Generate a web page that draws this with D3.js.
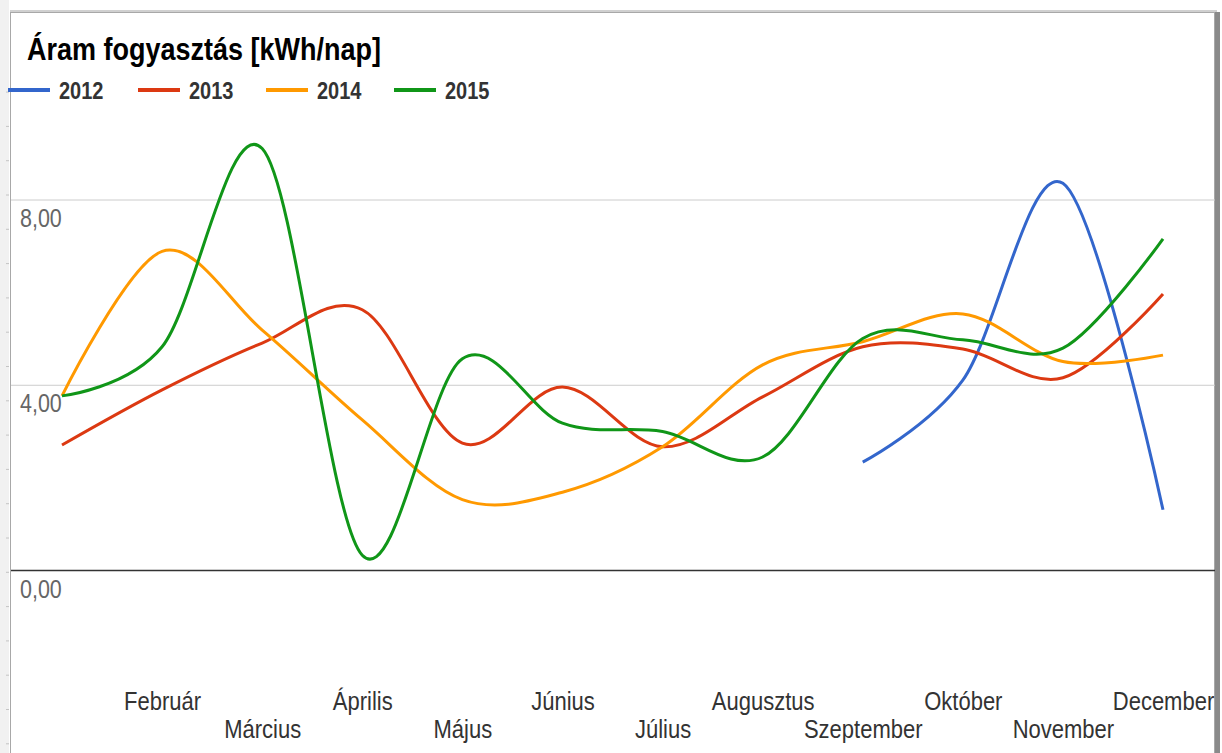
<!DOCTYPE html>
<html>
<head>
<meta charset="utf-8">
<script src="https://cdn.jsdelivr.net/npm/d3@7"></script>
<style>
    html, body { margin: 0; padding: 0; background: #fff; }
    svg { display: block; font-family: "Liberation Sans", Arial, sans-serif; }
</style>
</head>
<body>
<div id="chart"></div>
<script>
let months = ['Január', 'Február', 'Március', 'Április', 'Május', 'Június',
    'Július', 'Augusztus', 'Szeptember', 'Október', 'November', 'December'];
let years = ['2012', '2013', '2014', '2015'];
let colors = ['#3366cc', '#dc3912', '#ff9900', '#109618'];

let v2012 = [null, null, null, null, null, null, null, null, 2.33, 4.10, 8.35, 1.30];
let v2013 = [2.70, 3.89, 4.90, 5.62, 2.74, 3.95, 2.66, 3.74, 4.82, 4.77, 4.15, 5.96];
let v2014 = [3.76, 6.88, 5.18, 3.24, 1.52, 1.68, 2.66, 4.43, 4.93, 5.53, 4.50, 4.64];
let v2015 = [3.76, 4.82, 9.10, 0.32, 4.56, 3.17, 2.99, 2.44, 5.00, 4.97, 4.79, 7.15];

let yTicks = [0, 4, 8];

(function () {
    let W = 1222, H = 753;
    let stretch = 1.17; // a képen a szövegek függőlegesen kicsit nyújtottak

    let svg = d3.select('#chart').append('svg')
        .attr('width', W)
        .attr('height', H);

    function placeText(sel, xPos, yPos) {
        sel.attr('x', 0).attr('y', 0).attr('dy', 0)
            .attr('transform', function (d, i) {
                let px = typeof xPos === 'function' ? xPos(d, i) : xPos;
                let py = typeof yPos === 'function' ? yPos(d, i) : yPos;
                return 'translate(' + px + ',' + py + ') scale(1,' + stretch + ')';
            });
    }

    // keret (a kép egy lapról kivágott diagram)
    svg.append('rect').attr('x', 0).attr('y', 0).attr('width', 9).attr('height', H).attr('fill', '#f1f1f1');
    svg.selectAll('line.ruler')
        .data(d3.range(-3, 20))
        .enter()
        .append('line')
        .attr('class', 'ruler')
        .attr('x1', 6).attr('x2', 9)
        .attr('y1', function (d) { return 195 + d * 34.3; })
        .attr('y2', function (d) { return 195 + d * 34.3; })
        .attr('stroke', '#c4c4c4');

    svg.append('rect').attr('x', 1215).attr('y', 12).attr('width', 5).attr('height', H).attr('fill', '#8a8a8a');
    svg.append('rect').attr('x', 10).attr('y', 10).attr('width', 1207).attr('height', 2).attr('fill', '#d0d0d0');
    svg.append('rect')
        .attr('x', 10.5).attr('y', 12.5)
        .attr('width', 1204).attr('height', H)
        .attr('fill', '#fff')
        .attr('stroke', '#a8a8a8');

    let x = d3.scalePoint()
        .domain(months)
        .range([62, 1163]);

    let y = d3.scaleLinear()
        .domain([0, 8])
        .range([570, 199.5]);

    let huFormat = d3.formatLocale({decimal: ',', thousands: ' ', grouping: [3], currency: ['', '']}).format('.2f');

    // vízszintes rácsvonalak + feliratok
    let axisY = d3.axisLeft(y)
        .tickValues(yTicks)
        .tickSize(1204)
        .tickFormat(huFormat);

    let gy = svg.append('g')
        .attr('transform', 'translate(1215,0)')
        .call(axisY);
    gy.select('.domain').remove();
    gy.selectAll('.tick line')
        .attr('stroke', function (d) { return d === 0 ? '#333' : '#cccccc'; })
        .attr('stroke-width', function (d) { return d === 0 ? 1.5 : 1; });
    gy.selectAll('.tick text')
        .call(placeText, -1195, 27)
        .attr('text-anchor', 'start')
        .attr('font-size', 21.5)
        .attr('font-family', '"Liberation Sans", Arial, sans-serif')
        .attr('fill', '#666');

    // hónapok, két sorban váltakozva (a Január felirat a képen nem látszik)
    let axisX = d3.axisBottom(x)
        .tickSize(0)
        .tickFormat(function (d, i) { return i === 0 ? '' : d; });

    let gx = svg.append('g')
        .call(axisX);
    gx.select('.domain').remove();
    gx.selectAll('.tick text')
        .call(placeText, 0, function (d, i) { return i % 2 === 1 ? 710 : 738; })
        .attr('font-size', 22)
        .attr('font-family', '"Liberation Sans", Arial, sans-serif')
        .attr('fill', '#333');

    // görbék
    let series = [v2012, v2013, v2014, v2015];
    let line = d3.line()
        .defined(function (d) { return d != null; })
        .x(function (d, i) { return x(months[i]); })
        .y(function (d) { return y(d); })
        .curve(d3.curveCardinal.tension(0));

    svg.selectAll('path.serie')
        .data(series)
        .enter()
        .append('path')
        .attr('class', 'serie')
        .attr('d', line)
        .attr('fill', 'none')
        .attr('stroke', function (d, i) { return colors[i]; })
        .attr('stroke-width', 3)
        .attr('stroke-linejoin', 'round');

    // cím
    svg.append('text')
        .call(placeText, 27, 60)
        .attr('font-size', 27)
        .attr('font-weight', 'bold')
        .attr('fill', '#000')
        .text('Áram fogyasztás [kWh/nap]');

    // jelmagyarázat
    let legendX = [8, 138, 266, 394];
    let legend = svg.selectAll('g.legend')
        .data(years)
        .enter()
        .append('g')
        .attr('class', 'legend')
        .attr('transform', function (d, i) { return 'translate(' + legendX[i] + ',90)'; });
    legend.append('line')
        .attr('x1', 0).attr('x2', 42)
        .attr('y1', 0).attr('y2', 0)
        .attr('stroke', function (d, i) { return colors[i]; })
        .attr('stroke-width', 4);
    legend.append('text')
        .call(placeText, 51, 9)
        .attr('font-size', 20)
        .attr('font-weight', 'bold')
        .attr('fill', '#333')
        .text(function (d) { return d; });
})();
</script>
</body>
</html>
